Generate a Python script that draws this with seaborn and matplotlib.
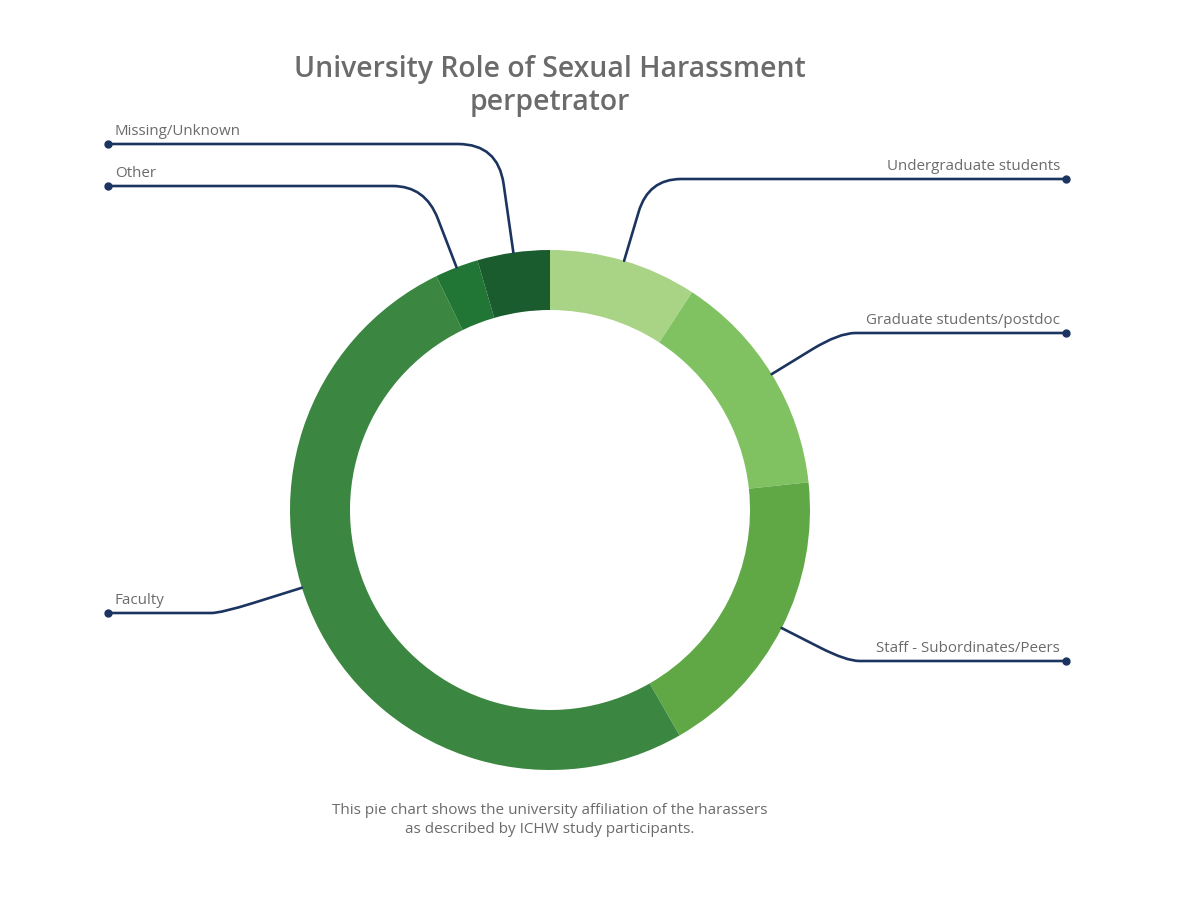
import numpy as np
import matplotlib
matplotlib.use("Agg")
import matplotlib.pyplot as plt
from matplotlib.path import Path
from matplotlib.patches import PathPatch
import seaborn as sns

# Data (share of harassers, %)
roles = ["Undergraduate students", "Graduate students/postdoc",
         "Staff - Subordinates/Peers", "Faculty", "Other", "Missing/Unknown"]
shares = [9.2, 14.1, 18.4, 51.1, 2.7, 4.5]
colors = ["#a9d485", "#80c262", "#60a845", "#3b8640", "#217535", "#1a5c2e"]

title = "University Role of Sexual Harassment\nperpetrator"
caption = ("This pie chart shows the university affiliation of the harassers\n"
           "as described by ICHW study participants.")

# layout (pixels, y measured from top)
W, H = 1200, 900
cx, cy, R, ring = 550, 510, 260, 60
label_y = {"Undergraduate students": 179, "Graduate students/postdoc": 333,
           "Staff - Subordinates/Peers": 661, "Faculty": 613,
           "Other": 186, "Missing/Unknown": 144}
anchor_nudge = {"Faculty": -10.5}
left_x, right_x = 108, 1066
line_col = "#1c3560"
text_col = "#6b6b6b"

sns.set_theme(style="white")
plt.rcParams["font.family"] = ["Open Sans", "DejaVu Sans"]

fig = plt.figure(figsize=(12, 9), dpi=100)
ax = fig.add_axes([0, 0, 1, 1])


def Y(py):
    return H - py


wedges, _ = ax.pie(shares, colors=colors, startangle=90, counterclock=False,
                   radius=R, center=(cx, Y(cy)),
                   wedgeprops=dict(width=ring, linewidth=0))

# leader lines: radial out from the wedge, rounded bend, horizontal to a dot
for w, name in zip(wedges, roles):
    mid = np.deg2rad((w.theta1 + w.theta2) / 2 + anchor_nudge.get(name, 0))
    d = np.array([np.cos(mid), np.sin(mid)])
    p0 = np.array([cx, Y(cy)]) + R * d
    ty = Y(label_y[name])
    t = (ty - p0[1]) / d[1]
    elbow = p0 + t * d
    left = d[0] < 0
    end = np.array([left_x if left else right_x, ty])
    rr = min(40, 0.4 * abs(ty - p0[1]))
    a = elbow - d * rr / abs(d[1])
    hdir = -1 if left else 1
    b = elbow + np.array([hdir * rr, 0])
    verts = [p0, a, elbow, b, end]
    codes = [Path.MOVETO, Path.LINETO, Path.CURVE3, Path.CURVE3, Path.LINETO]
    ax.add_patch(PathPatch(Path(verts, codes), fill=False, ec=line_col,
                           lw=1.9, capstyle="round", joinstyle="round"))
    ax.plot(end[0], end[1], "o", ms=5, color=line_col)
    if left:
        ax.text(end[0] + 7, ty + 5, name, ha="left", va="bottom",
                fontsize=10.9, color=text_col)
    else:
        ax.text(end[0] - 6, ty + 5, name, ha="right", va="bottom",
                fontsize=10.9, color=text_col)

ax.text(550, Y(86), title, ha="center", va="center", fontsize=20.4,
        fontweight="semibold", color=text_col, linespacing=1.2)
ax.text(550, Y(820), caption, ha="center", va="center", fontsize=11,
        color=text_col, linespacing=1.45)

ax.set_xlim(0, W)
ax.set_ylim(0, H)
ax.set_aspect("equal")
ax.axis("off")

plt.savefig("out.png", dpi=100)
